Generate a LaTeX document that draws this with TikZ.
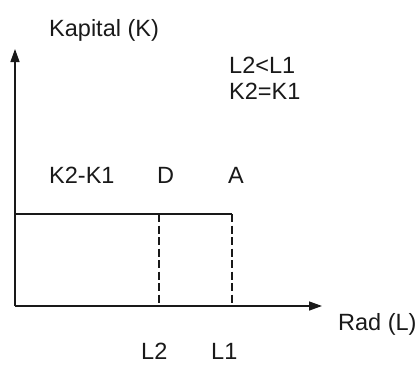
\documentclass[tikz,border=0pt]{standalone}
\usepackage{fontspec}
\setmainfont{Liberation Sans}
\usetikzlibrary{arrows.meta,positioning}
\definecolor{inkgray}{RGB}{25,25,25}
\tikzset{
    % axes and lines of the diagram
    axis/.style={
        line width=1.4pt, draw=inkgray,
        -{Triangle[length=13pt,width=9pt]}
    },
    solidline/.style={
        line width=1.4pt, draw=inkgray
    },
    dropline/.style={
        line width=1.5pt, draw=inkgray,
        dash pattern=on 8pt off 3.5pt
    },
    % plain text labels
    label/.style={
        inner sep=0pt, anchor=base west, text=inkgray,
        font=\fontsize{23.5}{28}\selectfont
    }
}
\begin{document}
\begin{tikzpicture}[x=1pt,y=-1pt]
\useasboundingbox (0,0) rectangle (418,365);

\coordinate (origin) at (15,306);
\coordinate (ytip) at (15,49);
\coordinate (xtip) at (322,306);
\coordinate (kone) at (15,214);
\coordinate (D) at (159,214);
\coordinate (A) at (232,214);
\coordinate (ltwo) at (159,306);
\coordinate (lone) at (232,306);

\draw[axis] (origin) -- (ytip);
\draw[axis] (origin) -- (xtip);
\draw[solidline] (kone) -- (A);
\draw[dropline] (D) -- (ltwo);
\draw[dropline] (A) -- (lone);

\node[label] (kapital) at (49,36) {Kapital (K)};
\node[label] (cond1) at (229,73) {L2<L1};
\node[label] (cond2) at (229,99) {K2=K1};
\node[label] (kdiff) at (49,183) {K2-K1};
\node[label] (Dlab) at (157,183) {D};
\node[label] (Alab) at (228,183) {A};
\node[label] (rad) at (338,330) {Rad (L)};
\node[label] (L2lab) at (141,359) {L2};
\node[label] (L1lab) at (211,359) {L1};

\end{tikzpicture}
\end{document}
